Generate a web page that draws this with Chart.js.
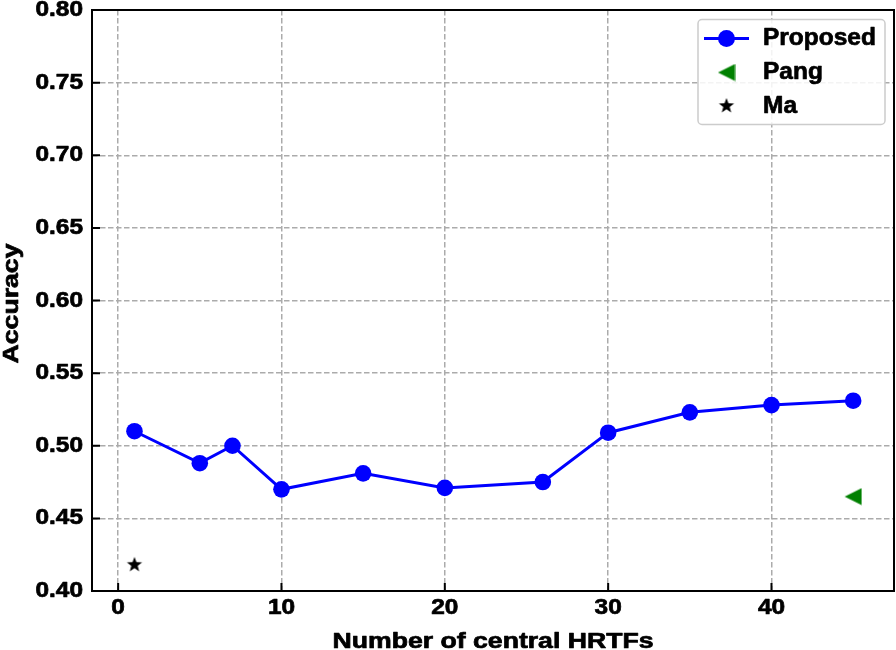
<!DOCTYPE html>
<html>
<head>
<meta charset="utf-8">
<script src="https://cdn.jsdelivr.net/npm/chart.js@4.4.1/dist/chart.umd.min.js"></script>
<style>
  html, body { margin: 0; padding: 0; background: #fff; }
  #wrap { width: 896px; height: 650px; }
</style>
</head>
<body>
<div id="wrap"><canvas id="accChart" width="896" height="650"></canvas></div>
<script>
// ── Data ───────────────────────────────────────────────────
const proposedX   = [1, 5, 7, 10, 15, 20, 26, 30, 35, 40, 45];
const proposedAcc = [0.510, 0.488, 0.500, 0.470, 0.481, 0.471, 0.475, 0.509, 0.523, 0.528, 0.531];
const pangX   = [45];
const pangAcc = [0.465];
const maX     = [1];
const maAcc   = [0.418];

const xTicks = [0, 10, 20, 30, 40];
const yTicks = [0.40, 0.45, 0.50, 0.55, 0.60, 0.65, 0.70, 0.75, 0.80];

const xTitle = 'Number of central HRTFs';
const yTitle = 'Accuracy';

const FONT = '"Liberation Sans", Arial, Helvetica, sans-serif';

// ── Marker images (matplotlib-like '<' and '*') ───────────
function makeTriangle(color) {
    const c = document.createElement('canvas');
    c.width = 18; c.height = 18;
    const g = c.getContext('2d');
    g.fillStyle = color;
    g.beginPath();
    g.moveTo(0.5, 9);
    g.lineTo(17.5, 0.5);
    g.lineTo(17.5, 17.5);
    g.closePath();
    g.fill();
    return c;
}

function makeStar(color, R) {
    const size = Math.ceil(R * 2 + 2);
    const c = document.createElement('canvas');
    c.width = size; c.height = size;
    const g = c.getContext('2d');
    const cx = size / 2, cy = size / 2, r = R * 0.42;
    g.fillStyle = color;
    g.beginPath();
    for (let i = 0; i < 10; i++) {
        const rad = (i % 2 === 0 ? R : r);
        const a = -Math.PI / 2 + i * Math.PI / 5;
        const px = cx + rad * Math.cos(a), py = cy + rad * Math.sin(a);
        if (i === 0) g.moveTo(px, py); else g.lineTo(px, py);
    }
    g.closePath();
    g.fill();
    return c;
}

const triImg  = makeTriangle('#008000');
const starImg = makeStar('#000000', 8);

// ── Text helper: heavy bold, slightly stretched like the original ──
function drawText(ctx, txt, x, y, size, sx, align, baseline, rot) {
    ctx.save();
    ctx.translate(x, y);
    if (rot) ctx.rotate(rot);
    ctx.scale(sx, 1);
    ctx.font = 'bold ' + size + 'px ' + FONT;
    ctx.fillStyle = '#000';
    ctx.strokeStyle = '#000';
    ctx.lineWidth = 0.7;
    ctx.lineJoin = 'round';
    ctx.textAlign = align;
    ctx.textBaseline = baseline;
    ctx.fillText(txt, 0, 0);
    ctx.strokeText(txt, 0, 0);
    ctx.restore();
}

// ── Frame, inward ticks, tick labels and titles ────────────
const axesDecor = {
    id: 'axesDecor',
    afterDatasetsDraw(chart) {
        const { ctx, chartArea: a, scales } = chart;
        const xs = scales.x, ys = scales.y;

        ctx.save();
        ctx.strokeStyle = '#000';
        ctx.lineWidth = 2;
        ctx.strokeRect(a.left, a.top, a.right - a.left, a.bottom - a.top);

        // inward tick marks
        ctx.beginPath();
        yTicks.forEach(v => {
            const py = ys.getPixelForValue(v);
            ctx.moveTo(a.left, py);
            ctx.lineTo(a.left + 8, py);
        });
        xTicks.forEach(v => {
            const px = xs.getPixelForValue(v);
            ctx.moveTo(px, a.bottom);
            ctx.lineTo(px, a.bottom - 8);
        });
        ctx.stroke();
        ctx.restore();

        yTicks.forEach(v => {
            drawText(ctx, v.toFixed(2), a.left - 9, ys.getPixelForValue(v), 22, 1.11, 'right', 'middle');
        });
        xTicks.forEach(v => {
            drawText(ctx, String(v), xs.getPixelForValue(v), a.bottom + 17, 22, 1.11, 'center', 'middle');
        });

        drawText(ctx, xTitle, (a.left + a.right) / 2, 647.5, 22, 1.21, 'center', 'alphabetic');
        drawText(ctx, yTitle, 17.5, (a.top + a.bottom) / 2 + 3, 22, 1.21, 'center', 'alphabetic', -Math.PI / 2);
    }
};

// ── Legend box (line + marker entries) ─────────────────────
const boxLegend = {
    id: 'boxLegend',
    afterDraw(chart) {
        const ctx = chart.ctx;
        const bx = 698, by = 19.5, bw = 187, bh = 105, br = 4;

        ctx.save();
        ctx.fillStyle = 'rgba(255,255,255,0.85)';
        ctx.strokeStyle = '#cccccc';
        ctx.lineWidth = 1.5;
        ctx.beginPath();
        ctx.roundRect(bx, by, bw, bh, br);
        ctx.fill();
        ctx.stroke();

        const mx = 726.5;
        const rows = [38.5, 72.5, 106];
        chart.data.datasets.forEach((ds, i) => {
            const my = rows[i];
            if (ds.showLine !== false) {
                ctx.strokeStyle = ds.borderColor;
                ctx.lineWidth = ds.borderWidth;
                ctx.beginPath();
                ctx.moveTo(704, my);
                ctx.lineTo(749, my);
                ctx.stroke();
            }
            const style = ds.pointStyle;
            if (style instanceof HTMLCanvasElement) {
                ctx.drawImage(style, mx - style.width / 2, my - style.height / 2);
            } else {
                ctx.fillStyle = ds.pointBackgroundColor;
                ctx.beginPath();
                ctx.arc(mx, my, 8.5, 0, Math.PI * 2);
                ctx.fill();
            }
            drawText(ctx, ds.label, 763, my + 6.8, 24, 1.02, 'left', 'alphabetic');
        });
        ctx.restore();
    }
};

const toXY = (xs, ys) => xs.map((x, i) => ({ x: x, y: ys[i] }));

new Chart(document.getElementById('accChart'), {
    type: 'line',
    data: {
        datasets: [
            {
                label: 'Proposed',
                data: toXY(proposedX, proposedAcc),
                borderColor: '#0000ff',
                backgroundColor: '#0000ff',
                borderWidth: 3,
                pointStyle: 'circle',
                pointRadius: 8.3,
                pointBorderWidth: 0,
                pointBackgroundColor: '#0000ff',
                tension: 0,
                showLine: true,
            },
            {
                label: 'Pang',
                data: toXY(pangX, pangAcc),
                showLine: false,
                pointStyle: triImg,
                pointBackgroundColor: '#008000',
            },
            {
                label: 'Ma',
                data: toXY(maX, maAcc),
                showLine: false,
                pointStyle: starImg,
                pointBackgroundColor: '#000000',
            },
        ]
    },
    options: {
        responsive: false,
        animation: false,
        events: [],
        layout: { autoPadding: false, padding: { top: 10, right: 2, left: 0, bottom: 0 } },
        plugins: {
            legend:  { display: false },
            tooltip: { enabled: false },
        },
        scales: {
            x: {
                type: 'linear',
                min: -1.6,
                max: 47.5,
                afterBuildTicks: s => { s.ticks = xTicks.map(v => ({ value: v })); },
                afterFit: s => { s.height = 59; },
                ticks: { display: false },
                grid: { color: '#ababab', lineWidth: 1.5, drawTicks: false },
                border: { display: false, dash: [5.5, 2.5] },
            },
            y: {
                min: 0.40,
                max: 0.80,
                afterBuildTicks: s => { s.ticks = yTicks.map(v => ({ value: v })); },
                afterFit: s => { s.width = 92; },
                ticks: { display: false },
                grid: { color: '#ababab', lineWidth: 1.5, drawTicks: false },
                border: { display: false, dash: [5.5, 2.5] },
            }
        }
    },
    plugins: [axesDecor, boxLegend]
});
</script>
</body>
</html>
